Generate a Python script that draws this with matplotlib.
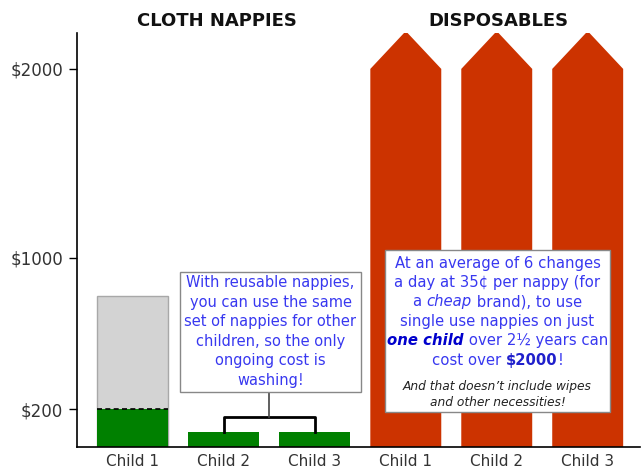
import numpy as np
import matplotlib
matplotlib.use('Agg')
import matplotlib.pyplot as plt
from matplotlib.patches import Rectangle
from matplotlib.transforms import offset_copy

# data
categories = ["Child 1", "Child 2", "Child 3", "Child 1", "Child 2", "Child 3"]
cloth_upfront = [800, 0, 0]          # grey part of child 1 (total set of nappies)
cloth_washing = [200, 80, 80]        # green part (ongoing cost)
disposable_cost = [2000, 2000, 2000]
arrow_head = 200                     # the arrow tips go past the scale
ytick_values = [200, 1000, 2000]
ytick_labels = ["$200", "$1000", "$2000"]
group_titles = ["CLOTH NAPPIES", "DISPOSABLES"]

W, H = 643, 469
fig = plt.figure(figsize=(W / 100, H / 100), dpi=100)
ax = fig.add_axes([77 / W, 1 - 447 / H, (640 - 77) / W, (447 - 33) / H])

red = "#cc3300"
green = "#008000"
blue = "#3838f0"
bw = 0.78
x = np.arange(len(categories))

# cloth bars
ax.bar(x[0], cloth_upfront[0], width=bw, color="#d3d3d3", edgecolor="#a8a8a8", linewidth=1)
ax.bar(x[:3], cloth_washing, width=bw, color=green, linewidth=0, zorder=2)
ax.plot([x[0] - bw / 2, x[0] + bw / 2], [cloth_washing[0]] * 2, color="black",
        linestyle=(0, (3, 2)), linewidth=1.2, zorder=3)

# disposable arrows
for xi, v in zip(x[3:], disposable_cost):
    xs = [xi - bw / 2, xi - bw / 2, xi, xi + bw / 2, xi + bw / 2]
    ys = [0, v, v + arrow_head, v, 0]
    ax.fill(xs, ys, color=red, linewidth=0, zorder=2)

ax.set_xlim(-0.615, 5.575)
ax.set_ylim(0, 2190)
ax.spines["top"].set_visible(False)
ax.spines["right"].set_visible(False)
ax.spines["left"].set_linewidth(1.2)
ax.spines["bottom"].set_linewidth(1.2)
ax.set_xticks(x)
ax.set_xticklabels(categories, fontsize=11, color="#333333")
ax.tick_params(axis="x", length=0, pad=5)
ax.set_yticks(ytick_values)
ax.set_yticklabels(ytick_labels, fontsize=12, color="#333333")
ax.tick_params(axis="y", length=6, width=1, pad=4)

fig.text(217 / W, 1 - 21 / H, group_titles[0], fontsize=13, fontweight="bold",
         color="#111111", ha="center", va="center")
fig.text(498 / W, 1 - 21 / H, group_titles[1], fontsize=13, fontweight="bold",
         color="#111111", ha="center", va="center")

# bracket joining child 2 and child 3
bk = 160
ax.plot([x[1], x[1], x[2], x[2]], [cloth_washing[1], bk, bk, cloth_washing[2]],
        color="black", linewidth=2, zorder=3)
ax.plot([(x[1] + x[2]) / 2] * 2, [bk, 292], color="#444444", linewidth=1.2, zorder=3)


def px_box(x0, y0, x1, y1):
    r = Rectangle((x0 / W, 1 - y1 / H), (x1 - x0) / W, (y1 - y0) / H,
                  transform=fig.transFigure, facecolor="white", edgecolor="#888888",
                  linewidth=1, zorder=5)
    fig.patches.append(r)


renderer = fig.canvas.get_renderer()


def rich_line(xc, yc, parts, size=10.5):
    # parts: (text, color, style, weight) pieces laid side by side, centred on xc
    texts = []
    for s, c, st, wt in parts:
        t = fig.text(0, 0, s, fontsize=size, color=c, style=st, fontweight=wt,
                     ha="left", va="center", zorder=6)
        texts.append(t)
    widths = [t.get_window_extent(renderer).width for t in texts]
    left = xc - sum(widths) / 2
    base = fig.transFigure
    for t, w in zip(texts, widths):
        t.set_position((0, 1 - yc / H))
        t.set_transform(offset_copy(base, fig=fig, x=left, y=0, units="dots"))
        left += w


px_box(180, 272, 361, 392)
box1 = ["With reusable nappies,", "you can use the same", "set of nappies for other",
        "children, so the only", "ongoing cost is", "washing!"]
for i, line in enumerate(box1):
    rich_line(270.5, 283 + i * 19.4, [(line, blue, "normal", "normal")])

px_box(385, 250, 610, 412)
N = "normal"
box2 = [
    [("At an average of 6 changes", blue, N, N)],
    [("a day at 35¢ per nappy (for", blue, N, N)],
    [("a ", blue, N, N), ("cheap", blue, "italic", N), (" brand), to use", blue, N, N)],
    [("single use nappies on just", blue, N, N)],
    [("one child", "#0000cc", "italic", "bold"), (" over 2½ years can", blue, N, N)],
    [("cost over ", blue, N, N), ("$2000", "#2020cc", N, "bold"), ("!", blue, N, N)],
]
for i, parts in enumerate(box2):
    rich_line(497.5, 263 + i * 19.4, parts, size=10.7)
rich_line(497.5, 386, [("And that doesn\u2019t include wipes", "#222222", "italic", N)], size=8.8)
rich_line(497.5, 402, [("and other necessities!", "#222222", "italic", N)], size=8.8)

fig.savefig("out.png", dpi=100)
